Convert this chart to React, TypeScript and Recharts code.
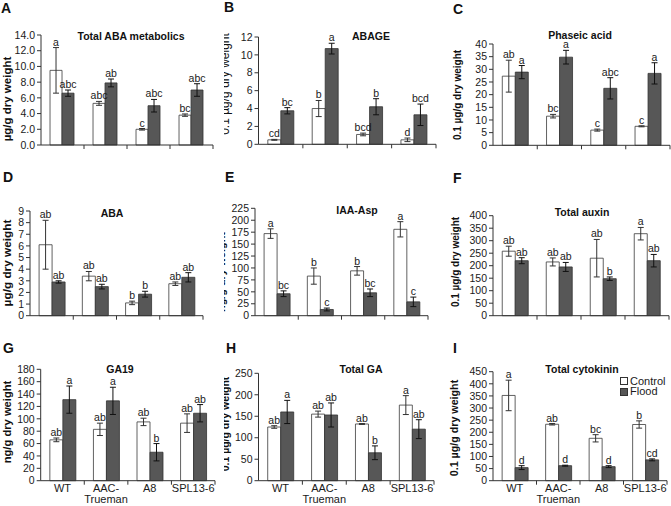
import React from 'react';
import { BarChart, Bar, XAxis, YAxis, ErrorBar, LabelList, Legend } from 'recharts';

const FONT = '"Liberation Sans", Arial, sans-serif';

const genotypes = ['WT', 'AAC-\nTrueman', 'A8', 'SPL13-6'];

// A - Total ABA metabolics (ug/g)
const abaMetCtrl = [9.5, 5.3, 2.0, 3.8];
const abaMetCtrlErr = [2.9, 0.25, 0.1, 0.15];
const abaMetFlood = [6.6, 7.9, 5.0, 7.0];
const abaMetFloodErr = [0.4, 0.5, 0.8, 0.8];
const abaMetCtrlLetters = ['a', 'abc', 'c', 'bc'];
const abaMetFloodLetters = ['abc', 'ab', 'abc', 'abc'];
const abaMetTicks = [0, 2, 4, 6, 8, 10, 12, 14];

// B - ABAGE (0.1 ug/g)
const abageCtrl = [0.5, 4.0, 1.1, 0.5];
const abageCtrlErr = [0.05, 0.9, 0.15, 0.2];
const abageFlood = [3.75, 10.7, 4.2, 3.3];
const abageFloodErr = [0.35, 0.6, 0.9, 1.2];
const abageCtrlLetters = ['cd', 'b', 'bcd', 'd'];
const abageFloodLetters = ['bc', 'a', 'b', 'bcd'];
const abageTicks = [0, 2, 4, 6, 8, 10, 12];

// C - Phaseic acid (0.1 ug/g)
const paCtrl = [27.3, 11.5, 6.0, 7.5];
const paCtrlErr = [6.3, 0.7, 0.4, 0.2];
const paFlood = [28.9, 34.8, 22.5, 28.4];
const paFloodErr = [2.6, 2.7, 4.2, 4.2];
const paCtrlLetters = ['ab', 'bc', 'c', 'c'];
const paFloodLetters = ['a', 'a', 'abc', 'a'];
const paTicks = [0, 5, 10, 15, 20, 25, 30, 35, 40];

// D - ABA (ug/g)
const abaCtrl = [6.1, 3.4, 1.1, 2.75];
const abaCtrlErr = [2.1, 0.4, 0.15, 0.15];
const abaFlood = [2.9, 2.5, 1.85, 3.3];
const abaFloodErr = [0.1, 0.2, 0.25, 0.4];
const abaCtrlLetters = ['ab', 'ab', 'b', 'ab'];
const abaFloodLetters = ['ab', 'ab', 'b', 'ab'];
const abaTicks = [0, 1, 2, 3, 4, 5, 6, 7, 8, 9];

// E - IAA-Asp (ng/g)
const iaaCtrl = [172, 83, 94, 181];
const iaaCtrlErr = [10, 17, 9, 16];
const iaaFlood = [46, 13, 48, 29];
const iaaFloodErr = [6, 3, 8, 10];
const iaaCtrlLetters = ['a', 'b', 'b', 'a'];
const iaaFloodLetters = ['bc', 'c', 'bc', 'c'];
const iaaTicks = [0, 25, 50, 75, 100, 125, 150, 175, 200, 225];

// F - Total auxin (0.1 ug/g)
const auxCtrl = [258, 215, 230, 328];
const auxCtrlErr = [20, 16, 75, 25];
const auxFlood = [220, 195, 148, 220];
const auxFloodErr = [12, 18, 7, 25];
const auxCtrlLetters = ['ab', 'ab', 'ab', 'a'];
const auxFloodLetters = ['ab', 'ab', 'b', 'ab'];
const auxTicks = [0, 50, 100, 150, 200, 250, 300, 350, 400];

// G - GA19 (ng/g)
const ga19Ctrl = [66, 83, 95, 93];
const ga19CtrlErr = [3, 10, 6, 15];
const ga19Flood = [131, 129, 46, 109];
const ga19FloodErr = [22, 22, 14, 14];
const ga19CtrlLetters = ['ab', 'ab', 'ab', 'ab'];
const ga19FloodLetters = ['a', 'a', 'b', 'ab'];
const ga19Ticks = [0, 20, 40, 60, 80, 100, 120, 140, 160, 180];

// H - Total GA (0.1 ug/g)
const gaCtrl = [125, 155, 132, 176];
const gaCtrlErr = [3, 7, 1, 22];
const gaFlood = [160, 153, 65, 120];
const gaFloodErr = [27, 28, 16, 22];
const gaCtrlLetters = ['ab', 'ab', 'ab', 'a'];
const gaFloodLetters = ['a', 'ab', 'b', 'ab'];
const gaTicks = [0, 50, 100, 150, 200, 250];

// I - Total cytokinin (0.1 ug/g)
const ckCtrl = [352, 233, 175, 232];
const ckCtrlErr = [63, 3, 15, 15];
const ckFlood = [54, 62, 58, 86];
const ckFloodErr = [8, 2, 4, 4];
const ckCtrlLetters = ['a', 'ab', 'bc', 'b'];
const ckFloodLetters = ['d', 'd', 'd', 'cd'];
const ckTicks = [0, 50, 100, 150, 200, 250, 300, 350, 400, 450];

type Panel = {
  letter: string; title: string; yLabel: string;
  ctrl: number[]; ctrlErr: number[]; ctrlLetters: string[];
  flood: number[]; floodErr: number[]; floodLetters: string[];
  ticks: number[]; decimals: number;
  x: number; y: number; w: number; h: number;
  axisX: number; top: number; bottom: number; right: number;
  letterPos: [number, number]; titlePos: [number, number];
  yLab: [number, number, number, string];
  xLabels?: boolean; legend?: boolean;
};

const panels: Panel[] = [
  { letter: 'A', title: 'Total ABA metabolics', yLabel: 'µg/g dry weight',
    ctrl: abaMetCtrl, ctrlErr: abaMetCtrlErr, ctrlLetters: abaMetCtrlLetters,
    flood: abaMetFlood, floodErr: abaMetFloodErr, floodLetters: abaMetFloodLetters,
    ticks: abaMetTicks, decimals: 1,
    x: 0, y: 0, w: 224, h: 165, axisX: 41, top: 35, bottom: 145, right: 213,
    letterPos: [1, 13], titlePos: [131, 40], yLab: [10.5, 99, 11.5, 'bold'] },
  { letter: 'B', title: 'ABAGE', yLabel: '0.1 µg/g dry weight',
    ctrl: abageCtrl, ctrlErr: abageCtrlErr, ctrlLetters: abageCtrlLetters,
    flood: abageFlood, floodErr: abageFloodErr, floodLetters: abageFloodLetters,
    ticks: abageTicks, decimals: 0,
    x: 224, y: 0, w: 224, h: 165, axisX: 34.5, top: 37, bottom: 144.3, right: 212,
    letterPos: [0, 12], titlePos: [147, 40], yLab: [5, 84, 12, 'normal'] },
  { letter: 'C', title: 'Phaseic acid', yLabel: '0.1 µg/g dry weight',
    ctrl: paCtrl, ctrlErr: paCtrlErr, ctrlLetters: paCtrlLetters,
    flood: paFlood, floodErr: paFloodErr, floodLetters: paFloodLetters,
    ticks: paTicks, decimals: 0,
    x: 448, y: 0, w: 223, h: 165, axisX: 45, top: 44, bottom: 145.3, right: 222,
    letterPos: [5, 14], titlePos: [132, 39], yLab: [12.5, 95, 10, 'bold'] },
  { letter: 'D', title: 'ABA', yLabel: 'µg/g dry weight',
    ctrl: abaCtrl, ctrlErr: abaCtrlErr, ctrlLetters: abaCtrlLetters,
    flood: abaFlood, floodErr: abaFloodErr, floodLetters: abaFloodLetters,
    ticks: abaTicks, decimals: 0,
    x: 0, y: 165, w: 224, h: 165, axisX: 30, top: 46, bottom: 150.7, right: 203,
    letterPos: [3, 17], titlePos: [112, 52], yLab: [11, 98, 11.8, 'bold'] },
  { letter: 'E', title: 'IAA-Asp', yLabel: 'ng/g dry weight',
    ctrl: iaaCtrl, ctrlErr: iaaCtrlErr, ctrlLetters: iaaCtrlLetters,
    flood: iaaFlood, floodErr: iaaFloodErr, floodLetters: iaaFloodLetters,
    ticks: iaaTicks, decimals: 0,
    x: 224, y: 165, w: 224, h: 165, axisX: 31, top: 43.3, bottom: 150.7, right: 204,
    letterPos: [1, 17], titlePos: [133, 49], yLab: [1, 107, 10.8, 'bold'] },
  { letter: 'F', title: 'Total auxin', yLabel: '0.1 µg/g dry weight',
    ctrl: auxCtrl, ctrlErr: auxCtrlErr, ctrlLetters: auxCtrlLetters,
    flood: auxFlood, floodErr: auxFloodErr, floodLetters: auxFloodLetters,
    ticks: auxTicks, decimals: 0,
    x: 448, y: 165, w: 223, h: 165, axisX: 45, top: 50.7, bottom: 150.7, right: 221,
    letterPos: [5, 18], titlePos: [134, 51], yLab: [11, 97, 10, 'bold'] },
  { letter: 'G', title: 'GA19', yLabel: 'ng/g dry weight',
    ctrl: ga19Ctrl, ctrlErr: ga19CtrlErr, ctrlLetters: ga19CtrlLetters,
    flood: ga19Flood, floodErr: ga19FloodErr, floodLetters: ga19FloodLetters,
    ticks: ga19Ticks, decimals: 0,
    x: 0, y: 330, w: 224, h: 176, axisX: 40.7, top: 39.3, bottom: 150.7, right: 215,
    letterPos: [3, 23], titlePos: [120, 43], yLab: [11, 92, 11.2, 'bold'], xLabels: true },
  { letter: 'H', title: 'Total GA', yLabel: '0.1 µg/g dry weight',
    ctrl: gaCtrl, ctrlErr: gaCtrlErr, ctrlLetters: gaCtrlLetters,
    flood: gaFlood, floodErr: gaFloodErr, floodLetters: gaFloodLetters,
    ticks: gaTicks, decimals: 0,
    x: 224, y: 330, w: 224, h: 176, axisX: 34.5, top: 43.3, bottom: 150.7, right: 210,
    letterPos: [2, 23], titlePos: [137, 43], yLab: [5, 94, 10.5, 'bold'], xLabels: true },
  { letter: 'I', title: 'Total cytokinin', yLabel: '0.1 µg/g dry weight',
    ctrl: ckCtrl, ctrlErr: ckCtrlErr, ctrlLetters: ckCtrlLetters,
    flood: ckFlood, floodErr: ckFloodErr, floodLetters: ckFloodLetters,
    ticks: ckTicks, decimals: 0,
    x: 448, y: 330, w: 223, h: 176, axisX: 45, top: 41.7, bottom: 150.7, right: 219,
    letterPos: [5, 23], titlePos: [134, 43], yLab: [10, 98, 10.7, 'bold'], xLabels: true, legend: true },
];

const letterContent = (vals: number[], errs: number[], letters: string[]) => (p: any) => {
  const i = p.index;
  const vb = p.viewBox ?? p;
  const x = Number(p.x ?? vb.x);
  const y = Number(p.y ?? vb.y);
  const w = Number(p.width ?? vb.width);
  const h = Math.abs(Number(p.height ?? vb.height));
  const top = Math.min(y, y + Number(p.height ?? vb.height));
  const errPx = vals[i] > 0 ? (errs[i] * h) / vals[i] : 0;
  return (
    <text x={x + w / 2} y={top - errPx - 2} textAnchor="middle" fontSize={10.5} fontFamily={FONT} fill="#1a1a1a">
      {letters[i]}
    </text>
  );
};

const makeTick = (band: number, axisY: number, labels: boolean) => (p: any) => {
  const x = Number(p.x);
  const idx = p.index;
  const lines = String(p.payload?.value ?? '').split('\n');
  return (
    <g>
      {idx > 0 && <line x1={x - band / 2} x2={x - band / 2} y1={axisY} y2={axisY + 4} stroke="#333" />}
      {idx === 3 && <line x1={x + band / 2} x2={x + band / 2} y1={axisY} y2={axisY + 4} stroke="#333" />}
      {labels &&
        lines.map((l, k) => (
          <text key={k} x={x} y={axisY + 11.5 + k * 11} textAnchor="middle" fontSize={11} fontFamily={FONT} fill="#1a1a1a">
            {l}
          </text>
        ))}
    </g>
  );
};

const legendContent = () => (
  <div style={{ fontFamily: FONT, fontSize: 11, color: '#1a1a1a', lineHeight: '11px' }}>
    <div style={{ display: 'flex', alignItems: 'center', height: 10.5 }}>
      <span style={{ width: 6, height: 6, border: '1px solid #333', background: '#fff', marginRight: 2 }} />
      Control
    </div>
    <div style={{ display: 'flex', alignItems: 'center', height: 10.5 }}>
      <span style={{ width: 6, height: 6, border: '1px solid #333', background: '#575757', marginRight: 2 }} />
      Flood
    </div>
  </div>
);

const PanelChart = ({ p }: { p: Panel }) => {
  const data = genotypes.map((g, i) => ({
    name: g,
    ctrl: p.ctrl[i], ctrlErr: p.ctrlErr[i], ctrlL: p.ctrlLetters[i],
    flood: p.flood[i], floodErr: p.floodErr[i], floodL: p.floodLetters[i],
  }));
  const band = (p.right - p.axisX) / 4;
  const max = p.ticks[p.ticks.length - 1];
  return (
    <div style={{ position: 'absolute', left: p.x, top: p.y, width: p.w, height: p.h, overflow: 'hidden' }}>
      <BarChart
        width={p.w}
        height={p.h}
        data={data}
        margin={{ top: p.top, right: p.w - p.right, left: 0, bottom: 0 }}
        barCategoryGap="21%"
        barGap={0}
      >
        <XAxis
          dataKey="name"
          interval={0}
          height={p.h - p.bottom}
          tickLine={false}
          axisLine={{ stroke: '#333' }}
          tick={makeTick(band, p.bottom, !!p.xLabels)}
        />
        <YAxis
          type="number"
          domain={[0, max]}
          ticks={p.ticks}
          interval={0}
          width={p.axisX}
          tickSize={4}
          tickMargin={2}
          axisLine={{ stroke: '#333' }}
          tickLine={{ stroke: '#333' }}
          tick={{ fontSize: 10.5, fill: '#1a1a1a', fontFamily: FONT }}
          tickFormatter={(v: number) => v.toFixed(p.decimals)}
        />
        <Bar dataKey="ctrl" name="Control" fill="#ffffff" stroke="#3a3a3a" strokeWidth={0.8} isAnimationActive={false}>
          <ErrorBar dataKey="ctrlErr" width={3} stroke="#333" strokeWidth={1} />
          <LabelList dataKey="ctrlL" content={letterContent(p.ctrl, p.ctrlErr, p.ctrlLetters)} />
        </Bar>
        <Bar dataKey="flood" name="Flood" fill="#575757" stroke="#333" strokeWidth={0.8} isAnimationActive={false}>
          <ErrorBar dataKey="floodErr" width={3} stroke="#111" strokeWidth={1} />
          <LabelList dataKey="floodL" content={letterContent(p.flood, p.floodErr, p.floodLetters)} />
        </Bar>
        {p.legend && (
          <Legend
            layout="vertical"
            align="center"
            verticalAlign="middle"
            content={legendContent}
            wrapperStyle={{ left: 172, top: 46, width: 52, height: 22 }}
          />
        )}
      </BarChart>
      <svg width={p.w} height={p.h} style={{ position: 'absolute', left: 0, top: 0, pointerEvents: 'none' }}>
        <text x={p.letterPos[0]} y={p.letterPos[1]} fontSize={14} fontWeight="bold" fontFamily={FONT} fill="#111">
          {p.letter}
        </text>
        <text x={p.titlePos[0]} y={p.titlePos[1]} textAnchor="middle" fontSize={10.5} fontWeight="bold" fontFamily={FONT} fill="#111">
          {p.title}
        </text>
        <text
          transform={`translate(${p.yLab[0]},${p.yLab[1]}) rotate(-90)`}
          textAnchor="middle"
          fontSize={p.yLab[2]}
          fontWeight={p.yLab[3]}
          fontFamily={FONT}
          fill="#111"
        >
          {p.yLabel}
        </text>
      </svg>
    </div>
  );
};

export default function App() {
  return (
    <div style={{ position: 'absolute', left: 0, top: 0, width: 671, height: 506, background: '#fff', overflow: 'hidden' }}>
      {panels.map((p) => (
        <PanelChart key={p.letter} p={p} />
      ))}
    </div>
  );
}
